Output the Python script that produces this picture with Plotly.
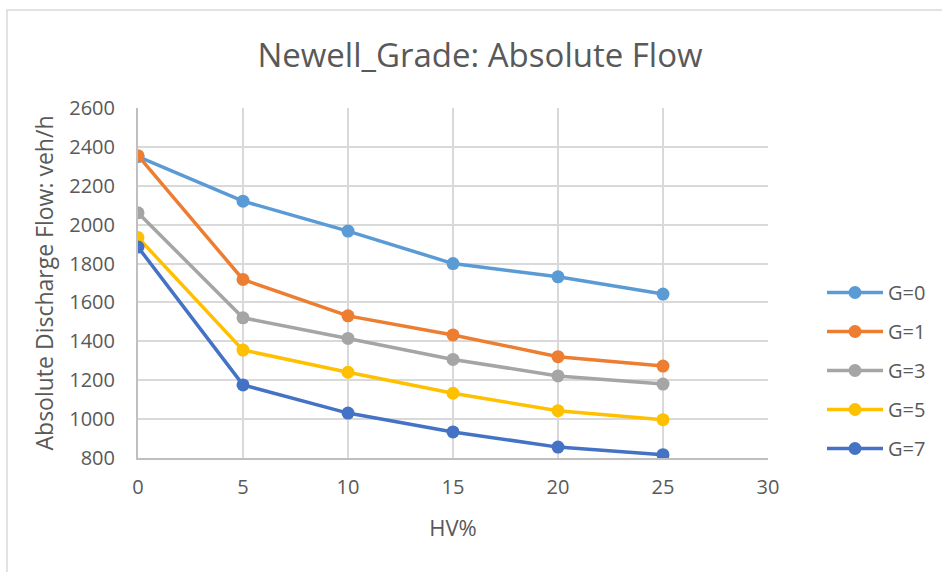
import plotly.graph_objects as go

# Heavy-vehicle share (%) on the x axis
hv_pct = [0, 5, 10, 15, 20, 25]

# Absolute discharge flow (veh/h) for each grade
g0 = [2350, 2121, 1967, 1800, 1732, 1643]
g1 = [2355, 1718, 1531, 1433, 1321, 1273]
g3 = [2061, 1521, 1415, 1307, 1222, 1180]
g5 = [1934, 1355, 1241, 1133, 1043, 997]
g7 = [1885, 1176, 1031, 934, 856, 817]

series_names = ["G=0", "G=1", "G=3", "G=5", "G=7"]
series_values = [g0, g1, g3, g5, g7]
series_colors = ["#5B9BD5", "#ED7D31", "#A5A5A5", "#FFC000", "#4472C4"]

FONT = "Open Sans"
TEXT = "#595959"

fig = go.Figure()
for i, (name, vals, col) in enumerate(zip(series_names, series_values, series_colors)):
    fig.add_trace(go.Scatter(
        x=hv_pct, y=vals, name=name, mode="lines+markers",
        line=dict(color=col, width=3.5),
        marker=dict(color=col, size=13),
        legendgroup=f"g{i}",
    ))

W, H = 942, 572
L, R, T, B = 138, 174, 108, 114
pw, ph = W - L - R, H - T - B

def px_x(p):
    return (p - L) / pw

def px_y(p):
    return (H - B - p) / ph

fig.update_layout(
    width=W, height=H,
    margin=dict(l=L, r=R, t=T, b=B, autoexpand=False),
    paper_bgcolor="white", plot_bgcolor="white",
    font=dict(family=FONT, color=TEXT),
    title=dict(text="Newell_Grade: Absolute Flow", x=480 / W, xanchor="center",
               y=1 - 55 / H, yanchor="middle",
               font=dict(family=FONT, size=33, color=TEXT)),
    xaxis=dict(range=[0, 30], dtick=5, tick0=0,
               showgrid=True, gridcolor="#d9d9d9", gridwidth=1.5,
               showline=True, linecolor="#bfbfbf", linewidth=2,
               zeroline=False, ticks="", ticklabelstandoff=10,
               tickfont=dict(size=20, color=TEXT),
               title=dict(text="HV%", font=dict(size=22, color=TEXT), standoff=22)),
    yaxis=dict(range=[800, 2600], dtick=200, tick0=800,
               showgrid=True, gridcolor="#d9d9d9", gridwidth=1.5,
               showline=True, linecolor="#bfbfbf", linewidth=2,
               zeroline=False, ticks="", ticklabelstandoff=17,
               tickfont=dict(size=20, color=TEXT),
               title=dict(text="Absolute Discharge Flow: veh/h",
                          font=dict(size=23, color=TEXT), standoff=9)),
    legend=dict(x=px_x(822), y=px_y(273), xanchor="left", yanchor="top",
                font=dict(size=20, color=TEXT), tracegroupgap=10,
                itemwidth=56, bgcolor="rgba(0,0,0,0)"),
    showlegend=True,
)

# Outer chart frame
fig.add_shape(type="rect", xref="paper", yref="paper",
              x0=px_x(7), x1=px_x(960), y0=px_y(600), y1=px_y(10),
              line=dict(color="#d9d9d9", width=1.5), fillcolor="rgba(0,0,0,0)",
              layer="below")

fig.write_html("out.html")
